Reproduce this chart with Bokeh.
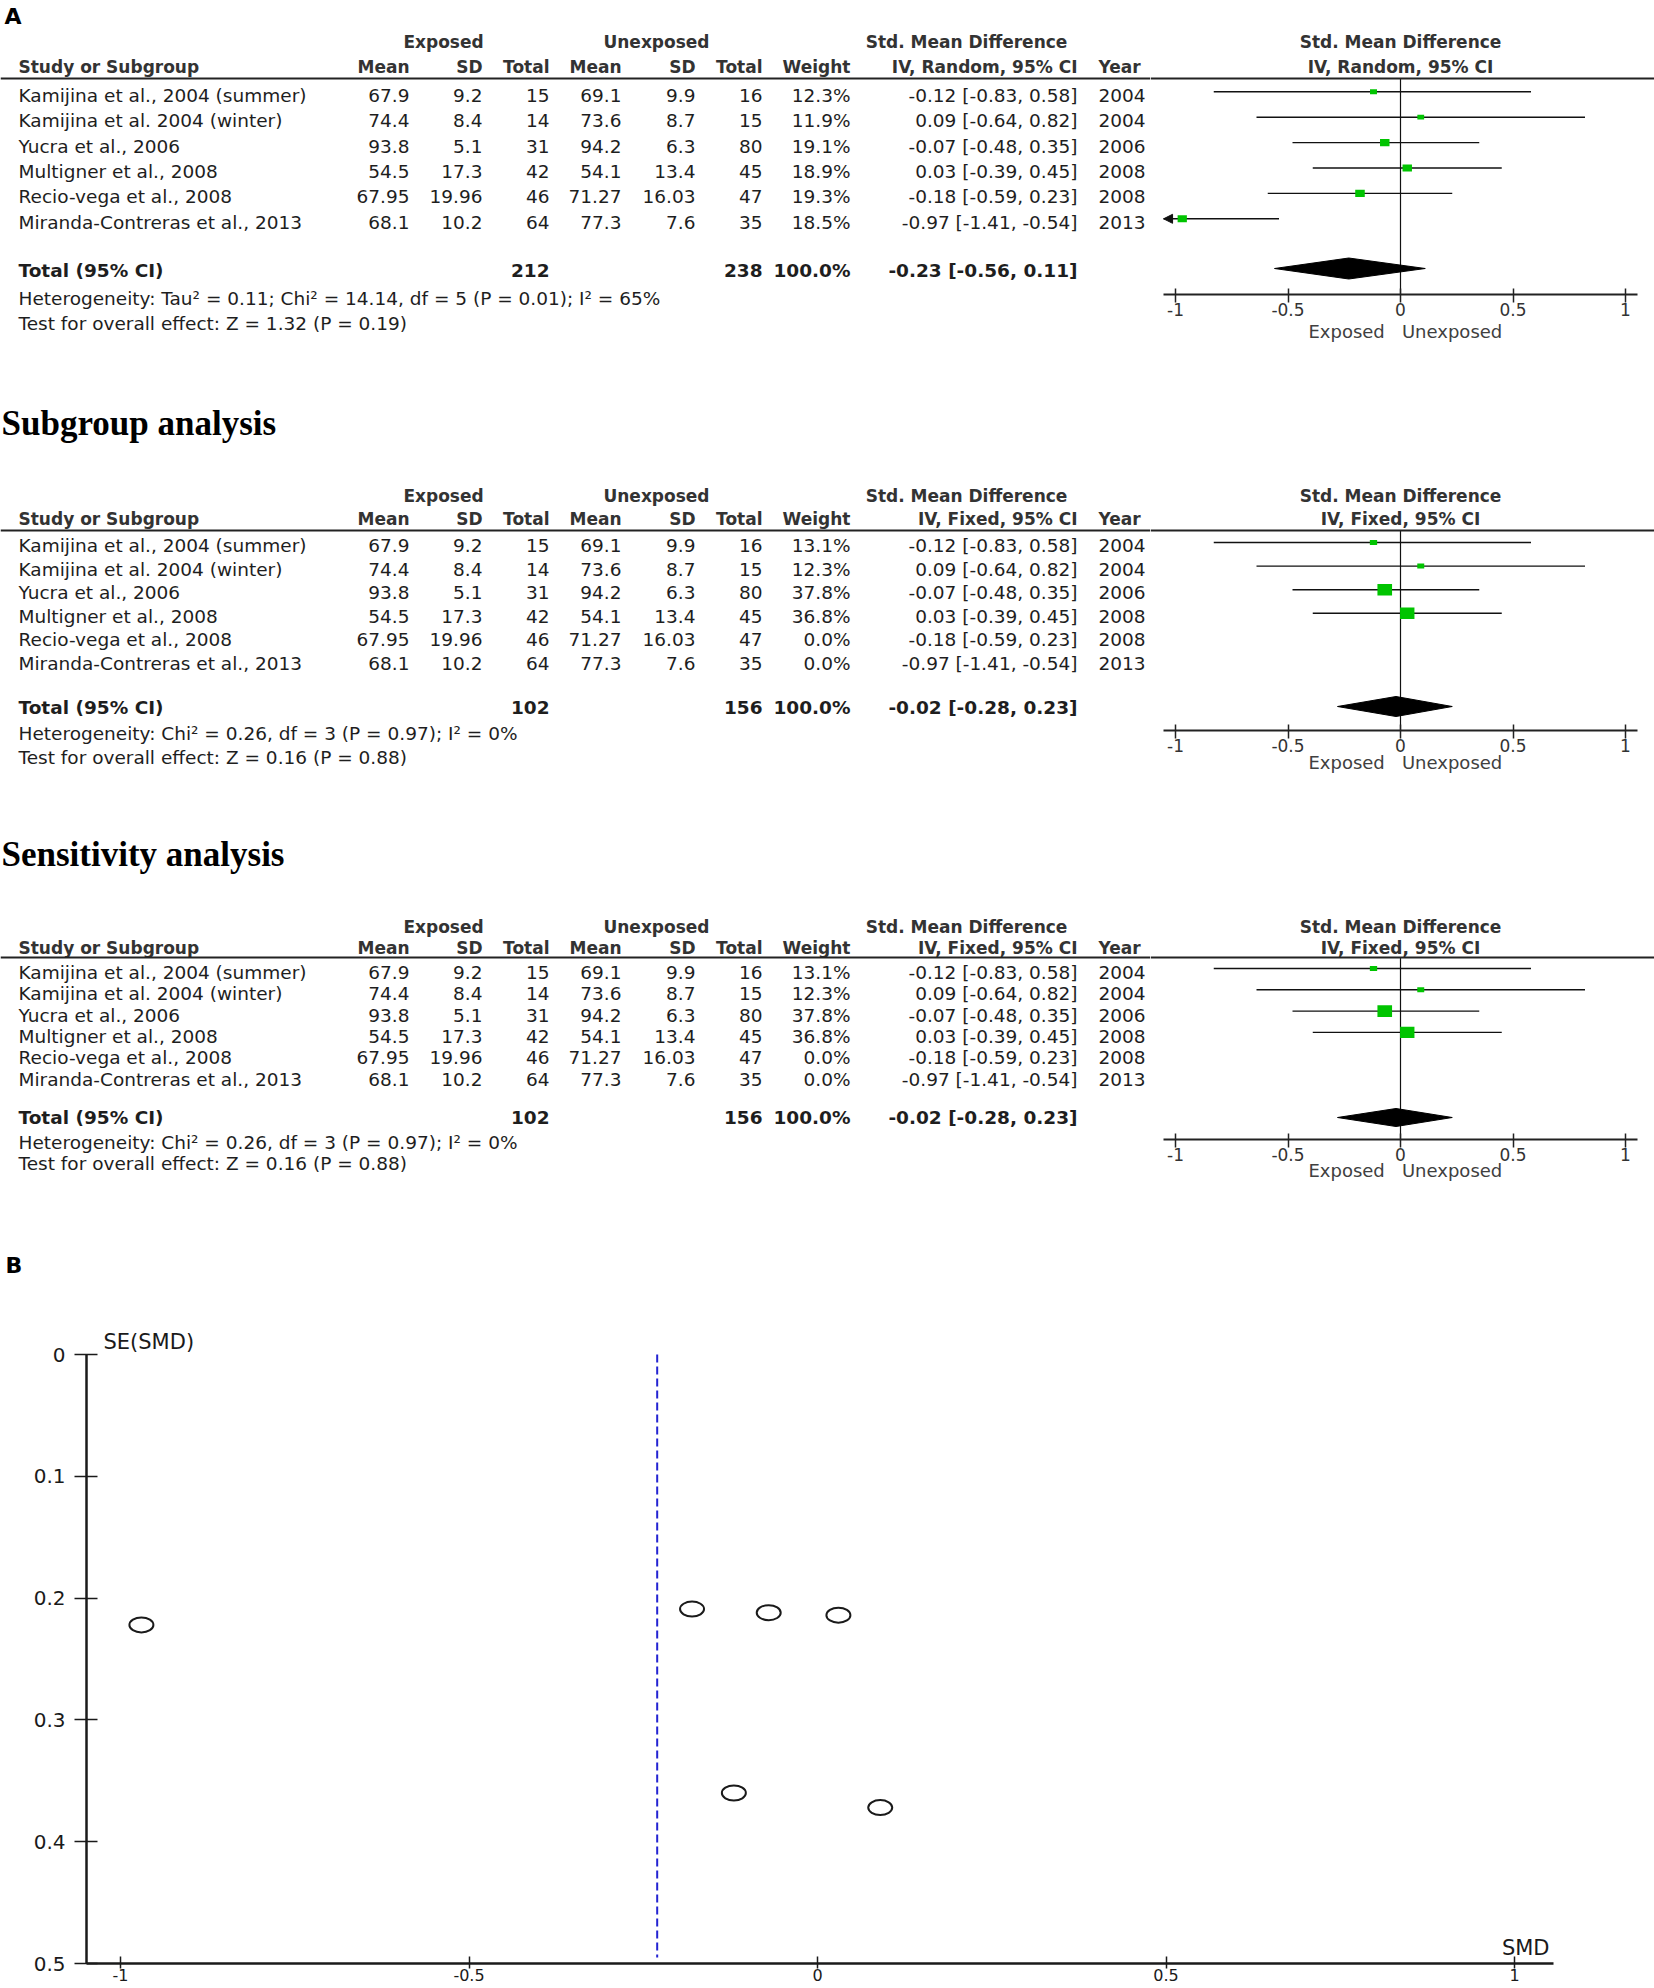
import numpy as np
from bokeh.plotting import figure
from bokeh.models import (ColumnDataSource, Range1d, FixedTicker, Label, Span,
                          Arrow, NormalHead, CustomJSTickFormatter)
from bokeh.layouts import column, row
from bokeh.embed import file_html
from bokeh.resources import INLINE
from bokeh.core.properties import value

# ------------------------------------------------------------------ data
studies = ["Kamijina et al., 2004 (summer)", "Kamijina et al. 2004 (winter)", "Yucra et al., 2006",
           "Multigner et al., 2008", "Recio-vega et al., 2008", "Miranda-Contreras et al., 2013"]
exp_mean = [67.9, 74.4, 93.8, 54.5, 67.95, 68.1]
exp_sd = [9.2, 8.4, 5.1, 17.3, 19.96, 10.2]
exp_total = [15, 14, 31, 42, 46, 64]
unexp_mean = [69.1, 73.6, 94.2, 54.1, 71.27, 77.3]
unexp_sd = [9.9, 8.7, 6.3, 13.4, 16.03, 7.6]
unexp_total = [16, 15, 80, 45, 47, 35]
years = [2004, 2004, 2006, 2008, 2008, 2013]
smd = [-0.12, 0.09, -0.07, 0.03, -0.18, -0.97]
ci_low = [-0.83, -0.64, -0.48, -0.39, -0.59, -1.41]
ci_high = [0.58, 0.82, 0.35, 0.45, 0.23, -0.54]
weight_random = [12.3, 11.9, 19.1, 18.9, 19.3, 18.5]
weight_fixed = [13.1, 12.3, 37.8, 36.8, 0.0, 0.0]

random_total_n = [212, 238]
random_total_smd = [-0.23, -0.56, 0.11]
fixed_total_n = [102, 156]
fixed_total_smd = [-0.02, -0.28, 0.23]

het_random = "Heterogeneity: Tau\u00b2 = 0.11; Chi\u00b2 = 14.14, df = 5 (P = 0.01); I\u00b2 = 65%"
overall_random = "Test for overall effect: Z = 1.32 (P = 0.19)"
het_fixed = "Heterogeneity: Chi\u00b2 = 0.26, df = 3 (P = 0.97); I\u00b2 = 0%"
overall_fixed = "Test for overall effect: Z = 0.16 (P = 0.88)"
favours = ["Exposed", "Unexposed"]

forest_ticks = [-1, -0.5, 0, 0.5, 1]
funnel_se = [0.36, 0.372, 0.212, 0.214, 0.209, 0.222]
funnel_x_ticks = [-1, -0.5, 0, 0.5, 1]
funnel_y_ticks = [0, 0.1, 0.2, 0.3, 0.4, 0.5]

# ------------------------------------------------------------------ style / layout
FONT = "DejaVu Sans"
SERIF = "Liberation Serif"
TXT = "#1e1e1e"
HDR = "#333333"
GREEN = "#00C400"
PAGE_W = 1654
SPLIT = 1150                       # table | forest split (page px)
ZERO_PX, UNIT_PX = 1400, 225       # forest plot: page px of SMD 0, px per SMD unit
AX_MIN, AX_MAX = -1.053, 1.053

COLS = dict(em=409, esd=482, en=549, um=621, usd=695, un=762, wt=850, ci=1077)
STUDY_X, YEAR_X = 18, 1098
BODY = "18.5px"
HS = "17px"
NB = "\u00a0"

fmt_num = CustomJSTickFormatter(code="return tick.toString()")


def base_fig(**kw):
    p = figure(output_backend="svg", toolbar_location=None, frame_align=False, **kw)
    p.outline_line_color = None
    p.background_fill_color = "white"
    p.border_fill_color = "white"
    for g in p.grid:
        g.visible = False
    return p


def put(p, x, y, text, align="left", bold=False, size=BODY, color=TXT, font=FONT, rng="default"):
    p.add_layout(Label(x=x, y=y, x_range_name=rng, text=text, text_align=align,
                       text_baseline="middle", text_font=font, text_font_size=size,
                       text_font_style="bold" if bold else "normal", text_color=color))


def ci_text(e, lo, hi):
    return f"{e:.2f} [{lo:.2f}, {hi:.2f}]"


def forest_section(top, axis_y, bottom, lay, method, weights, tot_n, tot_smd, het, overall,
                   title=None, panel=None, arrows=False):
    H = bottom - top
    # ---------------- left: the table
    L = base_fig(width=SPLIT, height=H, x_range=Range1d(0, SPLIT), y_range=Range1d(bottom, top),
                 x_axis_location=None, y_axis_location=None, min_border=0)
    # ---------------- right: the forest plot
    R = base_fig(width=PAGE_W - SPLIT, height=H,
                 x_range=Range1d((SPLIT - ZERO_PX) / UNIT_PX, (PAGE_W - ZERO_PX) / UNIT_PX),
                 y_range=Range1d(axis_y, top), y_axis_location=None,
                 min_border_left=0, min_border_right=0, min_border_top=0,
                 min_border_bottom=bottom - axis_y)
    R.extra_x_ranges = {"px": Range1d(SPLIT, PAGE_W)}

    ax = R.xaxis[0]
    ax.ticker = FixedTicker(ticks=forest_ticks)
    ax.formatter = fmt_num
    ax.bounds = (AX_MIN, AX_MAX)
    ax.axis_line_width = 2
    ax.axis_line_color = "#222222"
    ax.major_tick_in = 6
    ax.major_tick_out = 8
    ax.major_tick_line_width = 1.5
    ax.major_tick_line_color = "#222222"
    ax.minor_tick_line_color = None
    ax.major_label_standoff = 0
    ax.major_label_text_font = FONT
    ax.major_label_text_font_size = "17px"
    ax.major_label_text_color = "#333333"
    ax.axis_label = NB + favours[0] + NB * 3 + favours[1]
    ax.axis_label_text_font = FONT
    ax.axis_label_text_font_size = "18px"
    ax.axis_label_text_font_style = "normal"
    ax.axis_label_text_color = "#404040"
    ax.axis_label_standoff = lay["als"]

    if panel:
        put(L, 4, lay["panel_y"], panel, bold=True, size="22px", color="black")
    if title:
        put(L, 1, lay["title_y"], title, bold=True, size="35px", color="black", font=SERIF)

    h1, h2 = lay["h1"], lay["h2"]
    put(L, 443, h1, "Exposed", "center", True, HS, HDR)
    put(L, 656, h1, "Unexposed", "center", True, HS, HDR)
    put(L, 966, h1, "Std. Mean Difference", "center", True, HS, HDR)
    put(R, ZERO_PX, h1, "Std. Mean Difference", "center", True, HS, HDR, rng="px")
    put(L, STUDY_X, h2, "Study or Subgroup", "left", True, HS, HDR)
    for key, lab in [("em", "Mean"), ("esd", "SD"), ("en", "Total"), ("um", "Mean"),
                     ("usd", "SD"), ("un", "Total"), ("wt", "Weight")]:
        put(L, COLS[key], h2, lab, "right", True, HS, HDR)
    put(L, COLS["ci"], h2, f"IV, {method}, 95% CI", "right", True, HS, HDR)
    put(L, YEAR_X, h2, "Year", "left", True, HS, HDR)
    put(R, ZERO_PX, h2, f"IV, {method}, 95% CI", "center", True, HS, HDR, rng="px")

    for p in (L, R):
        p.add_layout(Span(location=lay["line"], dimension="width", line_color="#222222", line_width=2))

    n = len(studies)
    row_y = [lay["row0"] + i * lay["dy"] for i in range(n)]
    ty = [y + lay["tdy"] for y in row_y]
    src = ColumnDataSource(dict(
        study=studies, em=[str(v) for v in exp_mean], esd=[str(v) for v in exp_sd],
        en=[str(v) for v in exp_total], um=[str(v) for v in unexp_mean],
        usd=[str(v) for v in unexp_sd], un=[str(v) for v in unexp_total],
        wt=[f"{w:.1f}%" for w in weights],
        ci=[ci_text(e, lo, hi) for e, lo, hi in zip(smd, ci_low, ci_high)],
        yr=[str(v) for v in years], ty=ty))
    common = dict(source=src, text_baseline="middle", text_font=value(FONT),
                  text_font_size=value(BODY), text_color=TXT)
    L.text(x=STUDY_X, y="ty", text="study", text_align="left", **common)
    for key in COLS:
        L.text(x=COLS[key], y="ty", text=key, text_align="right", **common)
    L.text(x=YEAR_X, y="ty", text="yr", text_align="left", **common)

    # forest marks
    keep = [i for i in range(n) if weights[i] > 0]
    sq = [np.sqrt(weights[i]) for i in keep]
    fsrc = ColumnDataSource(dict(
        est=[smd[i] for i in keep],
        lo=[max(ci_low[i], AX_MIN) for i in keep],
        hi=[min(ci_high[i], AX_MAX) for i in keep],
        y=[row_y[i] for i in keep],
        bw=[2.9 * s - 3.2 for s in sq],
        bh=[2.5 * s - 3.8 for s in sq]))
    R.segment(x0=[0], y0=[lay["line"]], x1=[0], y1=[axis_y], line_color="#111111", line_width=1.2)
    R.segment(x0="lo", y0="y", x1="hi", y1="y", source=fsrc, line_color="#111111", line_width=1.4)
    R.rect(x="est", y="y", width="bw", height="bh", width_units="screen", height_units="screen",
           source=fsrc, fill_color=GREEN, line_color=None)
    if arrows:
        clipped = [i for i in keep if ci_low[i] < AX_MIN]
        asrc = ColumnDataSource(dict(xs=[AX_MIN + 0.03 for _ in clipped], xe=[AX_MIN for _ in clipped],
                                     y=[row_y[i] for i in clipped]))
        R.add_layout(Arrow(x_start="xs", y_start="y", x_end="xe", y_end="y", source=asrc,
                           line_color="#111111", line_width=1.4,
                           end=NormalHead(size=9, fill_color="#111111", line_color="#111111")))

    # total row
    ty_tot = lay["total"]
    e, lo, hi = tot_smd
    put(L, STUDY_X, ty_tot, "Total (95% CI)", "left", True)
    put(L, COLS["en"], ty_tot, str(tot_n[0]), "right", True)
    put(L, COLS["un"], ty_tot, str(tot_n[1]), "right", True)
    put(L, COLS["wt"], ty_tot, "100.0%", "right", True)
    put(L, COLS["ci"], ty_tot, ci_text(e, lo, hi), "right", True)
    c, h = lay["diamond"], lay["dh"]
    R.patch(x=[lo, e, hi, e], y=[c, c - h, c, c + h], fill_color="black", line_color="black")

    put(L, STUDY_X, lay["het"], het)
    put(L, STUDY_X, lay["test"], overall)
    return row(L, R, spacing=0)


layA = dict(panel_y=16, h1=41, h2=66, line=78, row0=91.3, dy=25.4, tdy=3.5, total=270,
            diamond=268, dh=10.5, het=298, test=323, als=2)
layS = dict(title_y=423, h1=495, h2=518, line=530, row0=542, dy=23.6, tdy=3, total=707,
            diamond=706, dh=10, het=733, test=757, als=-3)
layT = dict(title_y=854, h1=926, h2=947, line=957, row0=968, dy=21.3, tdy=4, total=1117,
            diamond=1117, dh=9, het=1142, test=1163, als=-4)

secA = forest_section(0, 294, 345, layA, "Random", weight_random, random_total_n, random_total_smd,
                      het_random, overall_random, panel="A", arrows=True)
secS = forest_section(345, 730, 778, layS, "Fixed", weight_fixed, fixed_total_n, fixed_total_smd,
                      het_fixed, overall_fixed, title="Subgroup analysis")
secT = forest_section(778, 1139, 1185, layT, "Fixed", weight_fixed, fixed_total_n, fixed_total_smd,
                      het_fixed, overall_fixed, title="Sensitivity analysis")

# ------------------------------------------------------------------ funnel plot (B)
STRIP_TOP, FUN_TOP, PAGE_H = 1185, 1290, 1988
Y0_PX, Y05_PX = 1354, 1963          # page px of SE 0 and SE 0.5
X_LEFT, X_RIGHT = 86, 1553          # page px of the x-axis extent
px_per_se = (Y05_PX - Y0_PX) / 0.5

strip = base_fig(width=PAGE_W, height=FUN_TOP - STRIP_TOP, x_range=Range1d(0, PAGE_W),
                 y_range=Range1d(FUN_TOP, STRIP_TOP), x_axis_location=None, y_axis_location=None,
                 min_border=0)
put(strip, 5, 1265, "B", bold=True, size="22px", color="black")

fb = base_fig(width=PAGE_W, height=PAGE_H - FUN_TOP,
              x_range=Range1d((X_LEFT - 817) / 697, (X_RIGHT - 817) / 697),
              y_range=Range1d(0.5, -(Y0_PX - FUN_TOP) / px_per_se),
              min_border_left=X_LEFT, min_border_right=PAGE_W - X_RIGHT, min_border_top=0,
              min_border_bottom=PAGE_H - Y05_PX)
fb.extra_x_ranges = {"px": Range1d(X_LEFT, X_RIGHT)}
fb.extra_y_ranges = {"py": Range1d(Y05_PX, FUN_TOP)}

ya = fb.yaxis[0]
ya.ticker = FixedTicker(ticks=funnel_y_ticks)
ya.formatter = fmt_num
ya.bounds = (0, 0.5)
ya.axis_line_width = 2.5
ya.axis_line_color = "#1a1a1a"
ya.major_tick_in = 11
ya.major_tick_out = 12
ya.major_tick_line_width = 1.5
ya.major_tick_line_color = "#1a1a1a"
ya.minor_tick_line_color = None
ya.major_label_standoff = 9
ya.major_label_text_font = FONT
ya.major_label_text_font_size = "20px"
ya.major_label_text_color = "#1a1a1a"

xa = fb.xaxis[0]
xa.ticker = FixedTicker(ticks=funnel_x_ticks)
xa.formatter = fmt_num
xa.axis_line_width = 2.5
xa.axis_line_color = "#1a1a1a"
xa.major_tick_in = 7
xa.major_tick_out = 5
xa.major_tick_line_width = 1.5
xa.major_tick_line_color = "#1a1a1a"
xa.minor_tick_line_color = None
xa.major_label_standoff = 0
xa.major_label_text_font = FONT
xa.major_label_text_font_size = "16px"
xa.major_label_text_color = "#1a1a1a"

pooled = random_total_smd[0]
fb.segment(x0=[pooled], y0=[0], x1=[pooled], y1=[0.495], line_color="#2323D2",
           line_dash="8 4", line_width=2)
fb.ellipse(x=smd, y=funnel_se, width=24, height=15, width_units="screen", height_units="screen",
           fill_color=None, line_color="#1a1a1a", line_width=2)
for x, y, t, a in [(103, 1341, "SE(SMD)", "left"), (1549, 1947, "SMD", "right")]:
    fb.add_layout(Label(x=x, y=y, x_range_name="px", y_range_name="py", text=t, text_align=a,
                        text_baseline="middle", text_font=FONT, text_font_size="21px",
                        text_color="#1a1a1a"))

layout = column(secA, secS, secT, strip, fb, spacing=0)
open("out.html", "w").write(file_html(layout, INLINE))
